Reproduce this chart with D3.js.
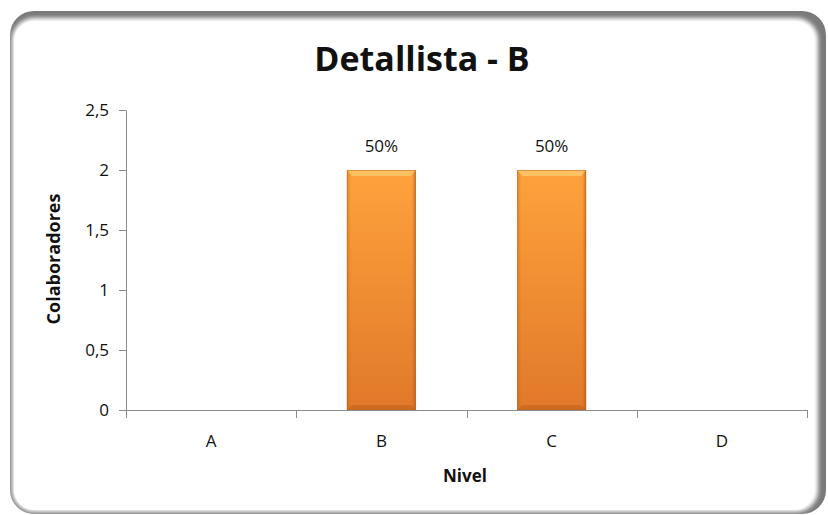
<!DOCTYPE html>
<html>
<head>
<meta charset="utf-8">
<script src="https://cdn.jsdelivr.net/npm/d3@7"></script>
<style>
  body { margin: 0; background: #fff; }
  svg text { font-family: "Open Sans", "Noto Sans", sans-serif; fill: #111; }
</style>
</head>
<body>
<div id="chart"></div>
<script>
var categories = ["A", "B", "C", "D"];
var colaboradores = [0, 2, 2, 0];
var yTicks = [0, 0.5, 1, 1.5, 2, 2.5];
var title = "Detallista - B";
var xTitle = "Nivel";
var yTitle = "Colaboradores";

var width = 828;
var height = 515;
var plot = {left: 126, right: 807, top: 110, bottom: 410};

var total = d3.sum(colaboradores);
var esFormat = d3.formatLocale({decimal: ",", thousands: ".", grouping: [3], currency: ["", "€"]});
var tickFmt = esFormat.format("~g");
var pctFmt = d3.format(".0%");

var svg = d3.select("#chart").append("svg")
  .attr("width", width)
  .attr("height", height);

var defs = svg.append("defs");

var blur = defs.append("filter").attr("id", "soft")
  .attr("x", "-5%").attr("y", "-5%").attr("width", "110%").attr("height", "110%");
blur.append("feGaussianBlur").attr("stdDeviation", 2.2);

var grad = defs.append("linearGradient").attr("id", "barFill")
  .attr("x1", 0).attr("y1", 0).attr("x2", 0).attr("y2", 1);
grad.append("stop").attr("offset", "0%").attr("stop-color", "#ffa23c");
grad.append("stop").attr("offset", "100%").attr("stop-color", "#e0792a");

var side = defs.append("linearGradient").attr("id", "barSide")
  .attr("x1", 0).attr("y1", 0).attr("x2", 1).attr("y2", 0);
side.append("stop").attr("offset", "0%").attr("stop-color", "#b85a10").attr("stop-opacity", 0.35);
side.append("stop").attr("offset", "6%").attr("stop-color", "#b85a10").attr("stop-opacity", 0);
side.append("stop").attr("offset", "94%").attr("stop-color", "#b85a10").attr("stop-opacity", 0);
side.append("stop").attr("offset", "100%").attr("stop-color", "#9a4a08").attr("stop-opacity", 0.5);

// frame with shadow on top / right
svg.append("rect")
  .attr("x", 10).attr("y", 11)
  .attr("width", 816).attr("height", 503)
  .attr("rx", 24)
  .attr("fill", "#7a7a7a");
svg.append("rect")
  .attr("x", 12).attr("y", 18)
  .attr("width", 806).attr("height", 494)
  .attr("rx", 22)
  .attr("fill", "#fff")
  .attr("filter", "url(#soft)");
svg.append("rect")
  .attr("x", 14).attr("y", 21)
  .attr("width", 800).attr("height", 489)
  .attr("rx", 20)
  .attr("fill", "#fff");

var xBand = d3.scaleBand()
  .domain(categories)
  .range([plot.left, plot.right])
  .padding(0);

var xBar = d3.scaleBand()
  .domain(categories)
  .range([plot.left, plot.right])
  .paddingInner(0.595)
  .paddingOuter(0.2975);

var y = d3.scaleLinear()
  .domain([0, 2.5])
  .range([plot.bottom, plot.top]);

// y axis
var yAxis = svg.append("g")
  .attr("transform", `translate(${plot.left},0)`)
  .call(d3.axisLeft(y).tickValues(yTicks).tickFormat(tickFmt).tickSize(7).tickPadding(10));
yAxis.selectAll("line, path").attr("stroke", "#8c8c8c");
yAxis.selectAll("text").style("font-size", "17px").attr("fill", "#1a1a1a");

// x axis with ticks at category boundaries
var bounds = categories.map(c => xBand(c)).concat([plot.right]);
var xg = svg.append("g");
xg.append("line")
  .attr("x1", plot.left).attr("x2", plot.right)
  .attr("y1", plot.bottom + 0.5).attr("y2", plot.bottom + 0.5)
  .attr("stroke", "#8c8c8c");
xg.selectAll(".tick")
  .data(bounds).enter()
  .append("line")
  .attr("x1", d => Math.round(d) + 0.5).attr("x2", d => Math.round(d) + 0.5)
  .attr("y1", plot.bottom).attr("y2", plot.bottom + 8)
  .attr("stroke", "#8c8c8c");
xg.selectAll(".lbl")
  .data(categories).enter()
  .append("text")
  .attr("x", d => xBand(d) + xBand.bandwidth() / 2)
  .attr("y", 447)
  .attr("text-anchor", "middle")
  .style("font-size", "17px")
  .text(d => d);

// bars
var bars = svg.append("g").selectAll("g")
  .data(categories.map((c, i) => ({cat: c, v: colaboradores[i]})).filter(d => d.v > 0))
  .enter().append("g");

bars.append("rect")
  .attr("x", d => xBar(d.cat))
  .attr("y", d => y(d.v))
  .attr("width", xBar.bandwidth())
  .attr("height", d => y(0) - y(d.v))
  .attr("fill", "url(#barFill)");
bars.append("rect")
  .attr("x", d => xBar(d.cat))
  .attr("y", d => y(d.v))
  .attr("width", xBar.bandwidth())
  .attr("height", d => y(0) - y(d.v))
  .attr("fill", "url(#barSide)");
// bevel highlight on top
bars.append("path")
  .attr("d", d => {
    var x0 = xBar(d.cat), x1 = x0 + xBar.bandwidth(), t = y(d.v);
    return `M${x0},${t}L${x1},${t}L${x1 - 5},${t + 6}L${x0 + 5},${t + 6}Z`;
  })
  .attr("fill", "#ffcf75")
  .attr("opacity", 0.7);
// darker bottom bevel
bars.append("path")
  .attr("d", d => {
    var x0 = xBar(d.cat), x1 = x0 + xBar.bandwidth(), b = y(0);
    return `M${x0},${b}L${x1},${b}L${x1 - 5},${b - 5}L${x0 + 5},${b - 5}Z`;
  })
  .attr("fill", "#b85e18")
  .attr("opacity", 0.45);
bars.append("rect")
  .attr("x", d => xBar(d.cat) + 0.5)
  .attr("y", d => y(d.v) + 0.5)
  .attr("width", xBar.bandwidth() - 1)
  .attr("height", d => y(0) - y(d.v) - 1)
  .attr("fill", "none")
  .attr("stroke", "#b8641c")
  .attr("stroke-opacity", 0.5);

bars.append("text")
  .attr("x", d => xBar(d.cat) + xBar.bandwidth() / 2)
  .attr("y", d => y(d.v) - 18)
  .attr("text-anchor", "middle")
  .style("font-size", "17px")
  .attr("fill", "#1a1a1a")
  .text(d => pctFmt(d.v / total));

// titles
svg.append("text")
  .attr("x", 422).attr("y", 71)
  .attr("text-anchor", "middle")
  .style("font-size", "34px")
  .style("font-weight", "bold")
  .text(title);

svg.append("text")
  .attr("x", 465).attr("y", 482)
  .attr("text-anchor", "middle")
  .style("font-size", "17px")
  .style("font-weight", "bold")
  .text(xTitle);

svg.append("text")
  .attr("transform", "translate(60,259) rotate(-90)")
  .attr("text-anchor", "middle")
  .style("font-size", "18px")
  .style("font-weight", "bold")
  .text(yTitle);
</script>
</body>
</html>
